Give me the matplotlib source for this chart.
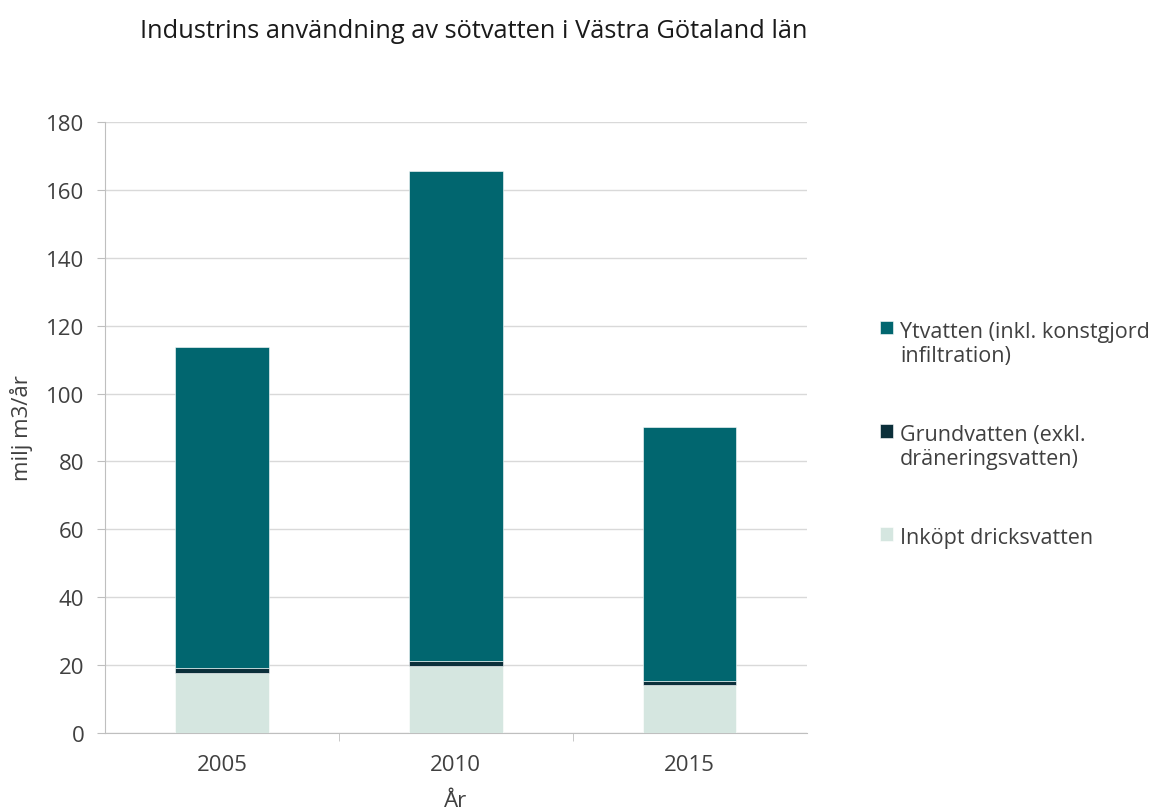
import numpy as np
import matplotlib.pyplot as plt

plt.rcParams['font.family'] = ['Open Sans', 'DejaVu Sans']

# data (milj m3/år)
years = ["2005", "2010", "2015"]
inkopt = [17.6, 19.7, 14.3]
grund = [1.6, 1.4, 1.0]
ytvatten = [94.5, 144.5, 74.9]

c_yt = "#01666f"
c_gr = "#0b2f3a"
c_ink = "#d5e6e0"
txt = "#404040"

fig = plt.figure(figsize=(11.56, 8.12), dpi=100)
ax = fig.add_axes([0.0908, 0.096, 0.607, 0.7525])

x = np.arange(len(years))
w = 0.4
b1 = ax.bar(x, inkopt, w, color=c_ink, edgecolor="white", linewidth=0.4,
            label="Inköpt dricksvatten\n", zorder=3)
bottom2 = np.array(inkopt)
b2 = ax.bar(x, grund, w, bottom=bottom2, color=c_gr, edgecolor="white", linewidth=0.4,
            label="Grundvatten (exkl.\ndräneringsvatten)", zorder=3)
bottom3 = bottom2 + np.array(grund)
b3 = ax.bar(x, ytvatten, w, bottom=bottom3, color=c_yt, edgecolor="white", linewidth=0.4,
            label="Ytvatten (inkl. konstgjord\ninfiltration)", zorder=3)

ax.set_xlim(-0.5, 2.5)
ax.set_ylim(0, 180)
ax.set_yticks(np.arange(0, 181, 20))
ax.set_xticks(x)
ax.set_xticklabels(years)
ax.set_xticks([0.5, 1.5], minor=True)
ax.tick_params(axis="x", which="major", length=0, pad=15, labelsize=16, colors=txt)
ax.tick_params(axis="x", which="minor", length=6, color="#bfbfbf")
ax.tick_params(axis="y", length=6, color="#bfbfbf", labelsize=16, labelcolor=txt, pad=9)
ax.grid(axis="y", color="#d9d9d9", linewidth=1, zorder=0)
for s in ["top", "right"]:
    ax.spines[s].set_visible(False)
ax.spines["left"].set_color("#bfbfbf")
ax.spines["bottom"].set_color("#bfbfbf")

ax.set_ylabel("milj m3/år", fontsize=16, color=txt)
ax.yaxis.set_label_coords(-0.103, 0.5)
ax.set_xlabel("År", fontsize=16, color=txt, labelpad=11)

fig.text(0.41, 0.961, "Industrins användning av sötvatten i Västra Götaland län",
         ha="center", va="center", fontsize=18.3, color="#1a1a1a")

handles = [b3, b2, b1]
labels = [h.get_label() for h in handles]
leg = fig.legend(handles, labels, loc="upper left", bbox_to_anchor=(0.761, 0.604),
                 frameon=False, fontsize=15.5, labelcolor=txt, handlelength=0.6,
                 handleheight=0.6, handletextpad=0.35, labelspacing=2.7,
                 borderaxespad=0, borderpad=0)
# square next to the first line of each label, like Excel
for col in leg._legend_handle_box.get_children():
    for item in col.get_children():
        item.align = "top"

fig.savefig("out.png", dpi=100)
